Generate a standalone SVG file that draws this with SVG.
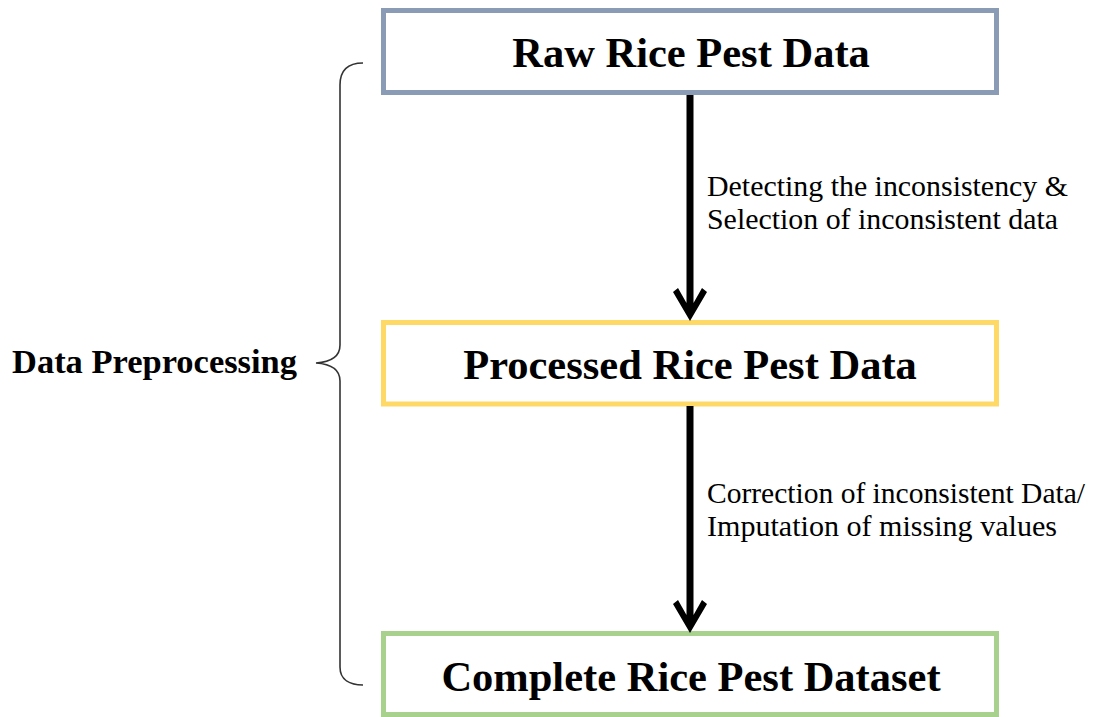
<svg xmlns="http://www.w3.org/2000/svg" width="1096" height="717" viewBox="0 0 1096 717">
<style>
.box{fill:#fff;stroke-width:5}
.title{font-family:"Liberation Serif","Times New Roman",serif;font-weight:bold;font-size:42.5px;fill:#000;text-anchor:middle}
.lbl{font-family:"Liberation Serif","Times New Roman",serif;font-size:29.5px;fill:#000}
.side{font-family:"Liberation Serif","Times New Roman",serif;font-weight:bold;font-size:34px;fill:#000}
.arrow{fill:#000}
</style>
<rect width="1096" height="717" fill="#fff"/>
<g id="n1">
<rect class="box" x="383.5" y="10.5" width="613" height="82" stroke="#8a9bb5"/>
<text class="title" x="691" y="67">Raw Rice Pest Data</text>
</g>
<g id="n2">
<rect class="box" x="383.5" y="322.5" width="613" height="81.5" stroke="#ffd966"/>
<text class="title" x="690" y="379">Processed Rice Pest Data</text>
</g>
<g id="n3">
<rect class="box" x="383.5" y="633.5" width="613" height="81" stroke="#a9d18e"/>
<text class="title" x="691" y="691">Complete Rice Pest Dataset</text>
</g>
<g id="preprocessing">
<path d="M363,63 C350,63 340,68 340,85 L340,345 C340,357 331,362 316,363 C331,364 340,369 340,381 L340,667 C340,680 350,685 363,685" fill="none" stroke="#333" stroke-width="1.6"/>
<text class="side" x="12" y="373" textLength="285" lengthAdjust="spacingAndGlyphs">Data Preprocessing</text>
</g>
<g id="connectors">
<polygon class="arrow" points="686.5,95 693.5,95 693.5,303 702,288 707,292 690,321 673,292 678,288 686.5,303"/>
<polygon class="arrow" points="686.5,406 693.5,406 693.5,615 702,600 707,604 690,633 673,604 678,600 686.5,615"/>
<text class="lbl" x="707" y="196" textLength="361" lengthAdjust="spacingAndGlyphs">Detecting the inconsistency &amp;</text>
<text class="lbl" x="707" y="229" textLength="351" lengthAdjust="spacingAndGlyphs">Selection of inconsistent data</text>
<text class="lbl" x="707" y="503" textLength="378" lengthAdjust="spacingAndGlyphs">Correction of inconsistent Data/</text>
<text class="lbl" x="707" y="536" textLength="350" lengthAdjust="spacingAndGlyphs">Imputation of missing values</text>
</g>
</svg>
